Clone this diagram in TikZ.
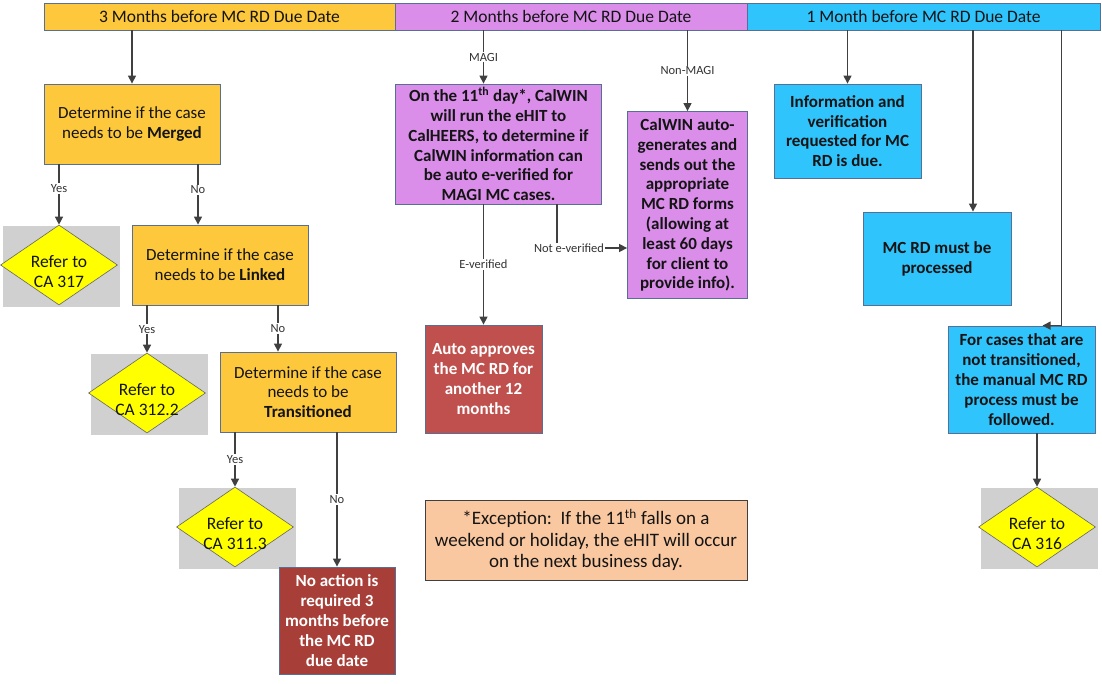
\documentclass[tikz,border=0pt]{standalone}
\usepackage{fontspec}
\setmainfont{Carlito}
\usetikzlibrary{arrows.meta,shapes.geometric,positioning}
\newcommand{\refto}[1]{\raisebox{-13pt}[0pt][0pt]{\begin{tabular}{@{}c@{}}Refer to\\CA #1\end{tabular}}}

\begin{document}
\begin{tikzpicture}[
        x=1pt, y=-1pt,
    every node/.style={inner sep=2pt, align=center, text=ink},
    box/.style={draw=edge, line width=0.8pt, fill=#1, font=\fontsize{17}{19.8}\selectfont},
    hdr/.style={box=#1, minimum height=27pt, font=\fontsize{17.5}{19}\selectfont},
    refbg/.style={fill=shade, minimum width=117pt, minimum height=81pt, inner sep=0pt},
    refd/.style={diamond, draw=gray!80!black, line width=0.6pt, fill=refyel, minimum width=117pt,
        minimum height=80pt, inner sep=0pt, font=\fontsize{17.5}{19.5}\selectfont},
    arr/.style={draw=wire, line width=1.3pt, -{Triangle[length=8pt,width=8pt]}},
    lbl/.style={fill=white, inner sep=1pt, text=wire!80!black, font=\fontsize{12.5}{13}\selectfont}
]
    \definecolor{ink}{RGB}{20,20,20}
    \definecolor{edge}{RGB}{88,110,148}
    \definecolor{wire}{RGB}{64,64,64}
    \definecolor{orx}{RGB}{253,200,60}
    \definecolor{pux}{RGB}{218,142,234}
    \definecolor{blx}{RGB}{48,196,252}
    \definecolor{rdx}{RGB}{192,80,77}
    \definecolor{mrx}{RGB}{168,62,56}
    \definecolor{pex}{RGB}{250,200,160}
    \definecolor{refyel}{RGB}{255,255,0}
    \definecolor{shade}{RGB}{208,208,208}
    \useasboundingbox (0,0) rectangle (1102,684);

    % headers
    \node [hdr=orx, minimum width=351pt] (hdrA) at (219.5,16.5) {3 Months before MC RD Due Date};
    \node [hdr=pux, minimum width=352pt] (hdrB) at (571,16.5) {2 Months before MC RD Due Date};
    \node [hdr=blx, minimum width=353pt] (hdrC) at (923.5,16.5) {1 Month before MC RD Due Date};

    % 3 months
    \node [box=orx, minimum width=176pt, minimum height=80pt] (merged) at (132,124)
        {Determine if the case\\needs to be \textbf{Merged}};
    \node [refbg] (g317) at (61.5,267) {};
    \node [refd] (d317) at (59,265) {\refto{317}};
    \node [box=orx, minimum width=176pt, minimum height=80pt] (linked) at (220,265)
        {Determine if the case\\needs to be \textbf{Linked}};
    \node [refbg] (g3122) at (149.5,394.5) {};
    \node [refd] (d3122) at (147,393) {\refto{312.2}};
    \node [box=orx, minimum width=176pt, minimum height=80pt] (trans) at (308,392)
        {Determine if the case\\needs to be\\\textbf{Transitioned}};
    \node [refbg] (g3113) at (237,528.5) {};
    \node [refd] (d3113) at (235,527) {\refto{311.3}};
    \node [box=mrx, minimum width=116pt, minimum height=107pt, text=white, font=\fontsize{17}{19.8}\bfseries] (noact) at (337,620.5)
        {No action is\\required 3\\months before\\the MC RD\\due date};

    % 2 months
    \node [box=pux, minimum width=206pt, minimum height=120pt, font=\fontsize{17}{19.8}\bfseries] (magi) at (498.5,144)
        {On the 11\textsuperscript{th} day*, CalWIN\\will run the eHIT to\\CalHEERS, to determine if\\CalWIN information can\\be auto e-verified for\\MAGI MC cases.};
    \node [box=pux, minimum width=120pt, minimum height=187pt, font=\fontsize{17}{19.8}\bfseries] (nonmagi) at (687.5,205)
        {CalWIN auto-\\generates and\\sends out the\\appropriate\\MC RD forms\\(allowing at\\least 60 days\\for client to\\provide info).};
    \node [box=rdx, minimum width=117pt, minimum height=108pt, text=white, font=\fontsize{17}{19.8}\bfseries] (auto) at (483.5,379)
        {Auto approves\\the MC RD for\\another 12\\months};
    \node [box=pex, draw=wire, minimum width=322pt, minimum height=80pt, font=\fontsize{19}{21.5}\selectfont] (except) at (586,540)
        {*Exception:\ \ If the 11\textsuperscript{th} falls on a\\weekend or holiday, the eHIT will occur\\on the next business day.};

    % 1 month
    \node [box=blx, minimum width=147pt, minimum height=94pt, font=\fontsize{17}{19.8}\bfseries] (info) at (847.5,131)
        {Information and\\verification\\requested for MC\\RD is due.};
    \node [box=blx, minimum width=148pt, minimum height=93pt, font=\fontsize{17}{19.8}\bfseries] (mcrd) at (937,258.5)
        {MC RD must be\\processed};
    \node [box=blx, minimum width=147pt, minimum height=107pt, font=\fontsize{17}{19.8}\bfseries] (manual) at (1021.5,379.5)
        {For cases that are\\not transitioned,\\the manual MC RD\\process must be\\followed.};
    \node [refbg] (g316) at (1039,528.5) {};
    \node [refd] (d316) at (1037,527) {\refto{316}};

    % connectors
    \draw [arr] (merged.north |- hdrA.south) -- (merged.north);
    \draw [arr] (d317.north |- merged.south) -- node [lbl, pos=0.4] {Yes} (d317.north);
    \draw [arr] ([xshift=-22pt]linked.north |- merged.south) -- node [lbl, pos=0.42] {No} ([xshift=-22pt]linked.north);
    \draw [arr] (d3122.north |- linked.south) -- node [lbl] {Yes} (d3122.north);
    \draw [arr] ([xshift=-30pt]trans.north |- linked.south) -- node [lbl] {No} ([xshift=-30pt]trans.north);
    \draw [arr] (d3113.north |- trans.south) -- node [lbl] {Yes} (d3113.north);
    \draw [arr] (noact.north |- trans.south) -- node [lbl] {No} (noact.north);
    \draw [arr] (auto.north |- hdrB.south) -- node [lbl] {MAGI} (auto.north |- magi.north);
    \draw [arr] (nonmagi.north |- hdrB.south) -- node [lbl] {Non-MAGI} (nonmagi.north);
    \draw [arr] (auto.north |- magi.south) -- node [lbl] {E-verified} (auto.north);
    \draw [arr] ([xshift=58.5pt]magi.south) |- node [lbl, pos=0.5, xshift=12pt] {Not e-verified} ([yshift=-43pt]nonmagi.west);
    \draw [arr] (info.north |- hdrC.south) -- (info.north);
    \draw [arr] ([xshift=36pt]mcrd.north |- hdrC.south) -- ([xshift=36pt]mcrd.north);
    \draw [arr] ([xshift=138pt]hdrC.south) |- ([xshift=21pt]manual.north);
    \draw [arr] (d316.north |- manual.south) -- (d316.north);
\end{tikzpicture}
\end{document}
